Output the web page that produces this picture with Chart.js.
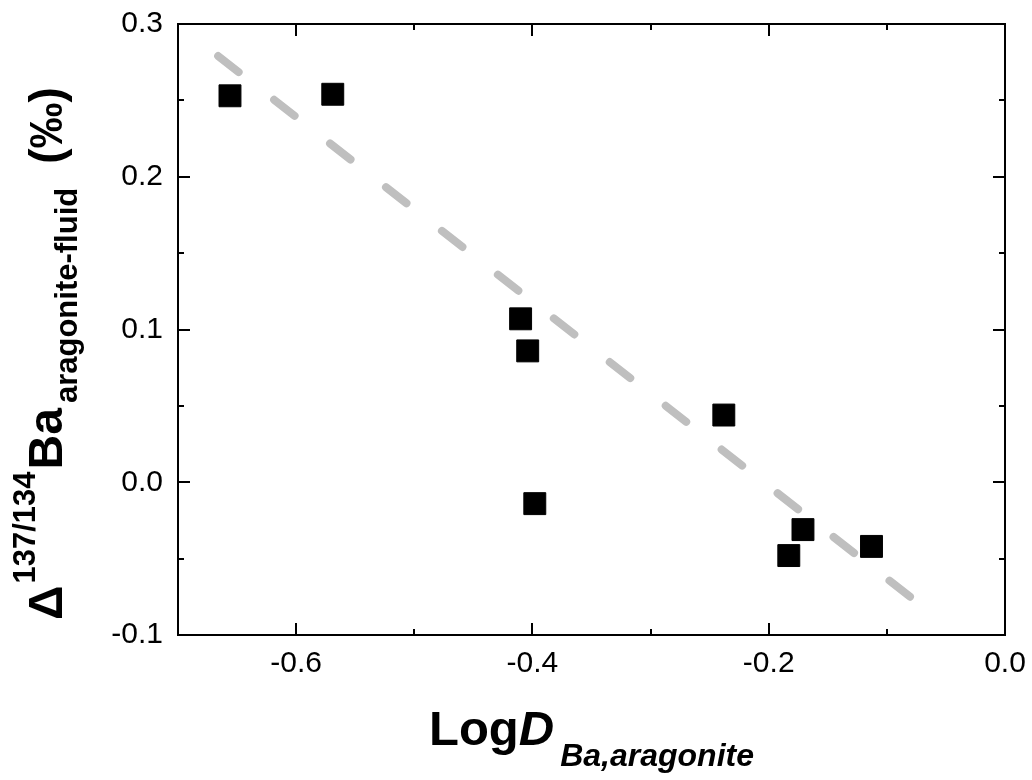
<!DOCTYPE html>
<html>
<head>
<meta charset="utf-8">
<script src="https://cdn.jsdelivr.net/npm/chart.js@4/dist/chart.umd.min.js"></script>
<style>
  html, body { margin: 0; padding: 0; background: #ffffff; }
  #wrap { width: 1032px; height: 780px; }
</style>
</head>
<body>
<div id="wrap"><canvas id="c" width="1032" height="780"></canvas></div>
<script>
// ---- data ----
const logD = [-0.656, -0.569, -0.410, -0.404, -0.398, -0.238, -0.171, -0.183, -0.113];
const deltaBa = [0.253, 0.254, 0.107, 0.086, -0.014, 0.044, -0.031, -0.048, -0.042];
const fitX = [-0.666, -0.077];
const fitY = [0.279, -0.077];
const xRange = [-0.7, 0.0];
const yRange = [-0.1, 0.3];

const FONT = '"Liberation Sans", Arial, Helvetica, sans-serif';

const points = logD.map((x, i) => ({ x: x, y: deltaBa[i] }));
const fitPts = fitX.map((x, i) => ({ x: x, y: fitY[i] }));

const framePlugin = {
  id: 'frame',
  afterDraw(chart) {
    const ctx = chart.ctx;
    const a = chart.chartArea;
    const xs = chart.scales.x, ys = chart.scales.y;
    ctx.save();
    ctx.strokeStyle = '#000';
    ctx.lineWidth = 2;
    ctx.strokeRect(a.left, a.top, a.right - a.left, a.bottom - a.top);
    const MAJ = 12, MIN = 6;
    ctx.beginPath();
    // x ticks (major every 0.2, minor between)
    xs.ticks.forEach(t => {
      const k = Math.round(t.value * 10);
      const px = Math.round(xs.getPixelForValue(t.value));
      const len = (k % 2 === 0) ? MAJ : MIN;
      ctx.moveTo(px, a.bottom); ctx.lineTo(px, a.bottom - len);
      ctx.moveTo(px, a.top); ctx.lineTo(px, a.top + len);
    });
    // y ticks (major every 0.1, minor at midpoints)
    const yt = ys.ticks.map(t => t.value);
    yt.forEach((v, i) => {
      const py = Math.round(ys.getPixelForValue(v));
      ctx.moveTo(a.left, py); ctx.lineTo(a.left + MAJ, py);
      ctx.moveTo(a.right, py); ctx.lineTo(a.right - MAJ, py);
      if (i < yt.length - 1) {
        const pm = Math.round(ys.getPixelForValue((v + yt[i + 1]) / 2));
        ctx.moveTo(a.left, pm); ctx.lineTo(a.left + MIN, pm);
        ctx.moveTo(a.right, pm); ctx.lineTo(a.right - MIN, pm);
      }
    });
    ctx.stroke();

    // ---- axis titles ----
    ctx.fillStyle = '#000';
    ctx.textBaseline = 'alphabetic';
    ctx.textAlign = 'left';

    // X title: LogD_{Ba,aragonite}
    const mainX = 'bold 49px ' + FONT;
    const mainXi = 'italic bold 49px ' + FONT;
    const subX = 'italic bold 32px ' + FONT;
    ctx.font = mainX; const wLog = ctx.measureText('Log').width;
    ctx.font = mainXi; const wD = ctx.measureText('D').width;
    ctx.font = subX; const wSub = ctx.measureText('Ba,aragonite').width;
    const gap = 6;
    const total = wLog + wD + gap + wSub;
    let x0 = (a.left + a.right) / 2 - total / 2;
    const base = 745;
    ctx.font = mainX; ctx.fillText('Log', x0, base); x0 += wLog;
    ctx.font = mainXi; ctx.fillText('D', x0, base); x0 += wD + gap;
    ctx.font = subX; ctx.fillText('Ba,aragonite', x0, base + 21);

    // Y title: Δ^{137/134}Ba_{aragonite-fluid} (‰)
    ctx.save();
    ctx.translate(62, 620);
    ctx.rotate(-Math.PI / 2);
    let p = 0;
    ctx.font = 'bold 48px ' + FONT;
    ctx.fillText('\u0394', p, 0); p += ctx.measureText('\u0394').width + 2;
    ctx.font = 'bold 31px ' + FONT;
    ctx.fillText('137/134', p, -27); p += ctx.measureText('137/134').width + 2;
    ctx.font = 'bold 48px ' + FONT;
    ctx.fillText('Ba', p, 0); p += ctx.measureText('Ba').width + 5;
    ctx.font = 'bold 31px ' + FONT;
    ctx.fillText('aragonite-fluid', p, 15); p += ctx.measureText('aragonite-fluid').width + 24;
    ctx.font = 'bold 46px ' + FONT;
    ctx.fillText('(\u2030)', p, 0);
    ctx.restore();

    ctx.restore();
  }
};

new Chart(document.getElementById('c'), {
  type: 'scatter',
  data: {
    datasets: [
      {
        label: 'data',
        data: points,
        pointStyle: 'rect',
        pointRadius: 15.5,
        pointHoverRadius: 15.5,
        backgroundColor: '#000000',
        borderColor: '#000000',
        borderWidth: 1,
        showLine: false
      },
      {
        label: 'fit',
        data: fitPts,
        showLine: true,
        pointRadius: 0,
        pointHoverRadius: 0,
        borderColor: '#bfbfbf',
        borderWidth: 8,
        borderDash: [26, 45],
        borderCapStyle: 'round',
        fill: false,
        tension: 0
      }
    ]
  },
  options: {
    responsive: false,
    devicePixelRatio: 1,
    animation: false,
    events: [],
    layout: { padding: { left: 0, top: 24, right: 27, bottom: 0 } },
    plugins: { legend: { display: false }, tooltip: { enabled: false }, title: { display: false } },
    scales: {
      x: {
        type: 'linear',
        min: xRange[0], max: xRange[1],
        grid: { display: false, drawTicks: false },
        border: { display: false },
        ticks: {
          stepSize: 0.1,
          autoSkip: false,
          maxRotation: 0,
          padding: 11,
          color: '#000',
          font: { family: FONT, size: 30 },
          callback: (v) => (Math.round(v * 10) % 2 === 0) ? (Math.abs(v) < 1e-9 ? '0.0' : v.toFixed(1)) : ''
        },
        afterFit: (s) => { s.height = 145; s.paddingLeft = 0; s.paddingRight = 0; }
      },
      y: {
        type: 'linear',
        min: yRange[0], max: yRange[1],
        grid: { display: false, drawTicks: false },
        border: { display: false },
        ticks: {
          stepSize: 0.1,
          autoSkip: false,
          padding: 15,
          color: '#000',
          font: { family: FONT, size: 30 },
          callback: (v) => (Math.abs(v) < 1e-9 ? '0.0' : v.toFixed(1))
        },
        afterFit: (s) => { s.width = 178; s.paddingTop = 0; s.paddingBottom = 0; }
      }
    }
  },
  plugins: [framePlugin]
});
</script>
</body>
</html>
